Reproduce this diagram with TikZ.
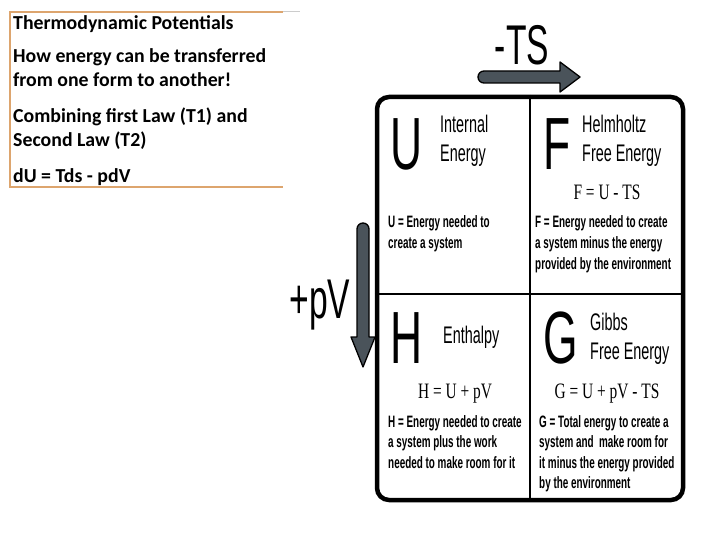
\documentclass[tikz,border=0pt]{standalone}
\usepackage{fontspec}
\setmainfont{Carlito}
\newfontfamily\condfont[FakeStretch=0.6]{Liberation Sans}
\newfontfamily\condserif[FakeStretch=0.7]{Liberation Serif}
\usepackage{tikz}
\usetikzlibrary{positioning}
\definecolor{frame}{HTML}{DDA56E}
\definecolor{shaft}{HTML}{4A535A}
% lines stacked from the first baseline down
\newcommand{\rows}[1]{\begin{tabular}[t]{@{}l@{}}#1\end{tabular}}

\begin{document}
\begin{tikzpicture}[x=1pt,y=-1pt,
    intro/.style={anchor=base west,inner sep=0pt,font=\bfseries\fontsize{19.8}{24}\selectfont},
    bigl/.style={anchor=base west,inner sep=0pt,font=\condfont\fontsize{74}{74}\selectfont},
    potname/.style={anchor=base west,inner sep=0pt,font=\condfont\fontsize{24}{29}\selectfont},
    eq/.style={anchor=base,inner sep=0pt,font=\condserif\fontsize{22}{22}\selectfont},
    desc/.style={anchor=base west,inner sep=0pt,font=\condfont\bfseries\fontsize{16.5}{20.5}\selectfont},
    sign/.style={anchor=base,inner sep=0pt,font=\condfont\fontsize{56}{56}\selectfont},
    gridbox/.style={draw,line width=4.5pt,rounded corners=12pt,minimum width=306pt,minimum height=403pt,inner sep=0pt},
    divider/.style={line width=2.5pt},
    fat/.style={fill=shaft,draw=black,line width=1.3pt,line join=round}
  ]
    \useasboundingbox (0,0) rectangle (720,540);

    % text panel on the left
    \draw[frame,line width=2pt] (283,12) -- (10,12) -- (10,187) -- (283,187);
    \draw[black!20,line width=1pt] (283,12) -- (300,12);
    \node[intro] (title) at (13,30) {Thermodynamic Potentials};
    \node[intro] (how) at (13,63) {\rows{How energy can be transferred\\from one form to another!}};
    \node[intro] (laws) at (13,123) {\rows{Combining first Law (T1) and\\Second Law (T2)}};
    \node[intro] (dU) at (13,183) {dU = Tds - pdV};

    % the four squares
    \node[gridbox] (grid) at (530,298.5) {};
    \draw[divider] (grid.north) -- (grid.south);
    \draw[divider] (grid.west |- 0,294) -- (grid.east |- 0,294);

    \node[bigl] (letU) at (390,170) {U};
    \node[potname] (nameU) at (440,133) {\rows{Internal\\Energy}};
    \node[desc] (descU) at (388,228) {\rows{U = Energy needed to\\create a system}};

    \node[bigl] (letF) at (543,170) {F};
    \node[potname] (nameF) at (582,133) {\rows{Helmholtz\\Free Energy}};
    \node[eq] (eqF) at (607,200) {F = U - TS};
    \node[desc] (descF) at (535,228) {\rows{F = Energy needed to create\\a system minus the energy\\provided by the environment}};

    \node[bigl] (letH) at (390,363) {H};
    \node[potname] (nameH) at (443,343) {Enthalpy};
    \node[eq] (eqH) at (455,398) {H = U + pV};
    \node[desc] (descH) at (388,427) {\rows{H = Energy needed to create\\a system plus the work\\needed to make room for it}};

    \node[bigl] (letG) at (543,363) {G};
    \node[potname] (nameG) at (590,330) {\rows{Gibbs\\Free Energy}};
    \node[eq] (eqG) at (607,398) {G = U + pV - TS};
    \node[desc] (descG) at (539,427) {\rows{G = Total energy to create a\\system and\ \ make room for\\it minus the energy provided\\by the environment}};

    % the two fat arrows
    \draw[fat] (484,83) arc(90:270:6) -- (560,71) -- (560,62) -- (580,77) -- (560,92) -- (560,83) -- cycle;
    \node[sign] (lblTS) at (522,65) {-TS};
    \draw[fat] (357,229) arc(180:360:6) -- (369,337) -- (375,337) -- (363,367) -- (351,337) -- (357,337) -- cycle;
    \node[sign] (lblpV) at (320,318) {+pV};
  \end{tikzpicture}
\end{document}
